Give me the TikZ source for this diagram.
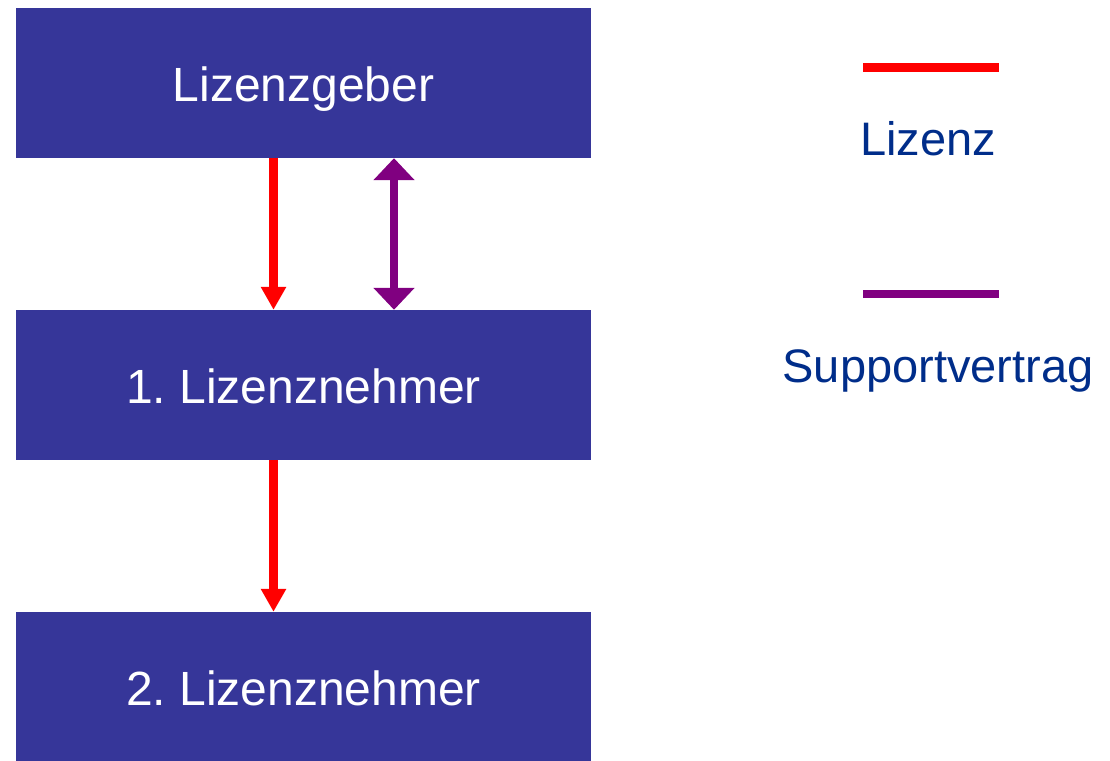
\documentclass[tikz,border=0pt]{standalone}
\usepackage{fontspec}
\setmainfont{Liberation Sans}
\usetikzlibrary{arrows.meta}
\definecolor{boxblue}{RGB}{54,54,153}
\definecolor{legendblue}{RGB}{0,45,138}
\definecolor{supportpurple}{RGB}{128,0,128}
\frenchspacing
\newcommand{\Wid}{575pt}
\tikzset{Party/.style={
    inner sep=0pt,
    minimum width=\Wid,
    minimum height=150pt,
    text height=37pt,
    text depth=0pt,
    fill=boxblue,
    text=white,
    align=center,
    font=\fontsize{48}{56}\selectfont,
    }
}
\begin{document}
\begin{tikzpicture}[x=1pt, y=-1pt,
    lic/.style={draw=red, line width=9pt, -{Triangle[width=24pt,length=23pt]}},
    sup/.style={draw=supportpurple, line width=8pt, {Triangle[width=40pt,length=22pt]}-{Triangle[width=40pt,length=22pt]}},
    key/.style={line width=8pt},
    lbl/.style={anchor=base, text=legendblue, font=\fontsize{47}{56}\selectfont},
]
\useasboundingbox (0,0) rectangle (1110,760);
% parties
\node [Party] (geber) at (303.5,83) {Lizenzgeber};
\node [Party] (nehmerA) at (303.5,385) {1. Lizenznehmer};
\node [Party] (nehmerB) at (303.5,687) {2. Lizenznehmer};
% contracts
\draw [lic] ([xshift=-30pt]geber.south) -- ([xshift=-30pt]nehmerA.north);
\draw [sup] ([xshift=90.5pt]geber.south) -- ([xshift=90.5pt]nehmerA.north);
\draw [lic] ([xshift=-30pt]nehmerB.north |- nehmerA.south) -- ([xshift=-30pt]nehmerB.north);
% legend
\coordinate (licL) at (863,67.5); \coordinate (licR) at (999,67.5);
\draw [key, red] (licL) -- (licR);
\node [lbl] (licText) at (928,155) {Lizenz};
\coordinate (supL) at (863,294); \coordinate (supR) at (999,294);
\draw [key, supportpurple] (supL) -- (supR);
\node [lbl] (supText) at (938,382) {Supportvertrag};
\end{tikzpicture}
\end{document}
